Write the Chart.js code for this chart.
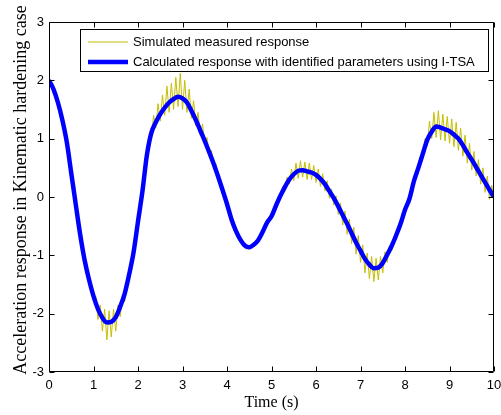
<!DOCTYPE html>
<html>
<head>
<meta charset="utf-8">
<script src="https://cdn.jsdelivr.net/npm/chart.js@4.4.0/dist/chart.umd.min.js"></script>
<style>
  html, body { margin: 0; padding: 0; background: #fff; }
</style>
</head>
<body>
<canvas id="myChart" width="501" height="415"></canvas>
<script>
// time steps of the two series (s)
var measuredStep = 0.05;
var calculatedStep = 0.1;

// simulated measured response (noisy), one value every 0.05 s from 0 to 10
var measuredValues = [
  2.00, 1.95, 1.83, 1.76, 1.60, 1.50, 1.30, 1.16, 0.92, 0.70,
  0.39, 0.17, -0.14, -0.35, -0.67, -0.83, -1.12, -1.20, -1.50, -1.50,
  -1.80, -1.70, -2.10, -1.85, -2.30, -1.92, -2.45, -1.95, -2.40, -1.92,
  -2.30, -1.85, -2.05, -1.68, -1.80, -1.42, -1.38, -1.10, -0.98, -0.66,
  -0.45, -0.12, 0.08, 0.48, 0.70, 1.05, 1.00, 1.40, 1.18, 1.60,
  1.30, 1.75, 1.40, 1.90, 1.45, 1.95, 1.50, 2.05, 1.55, 2.12,
  1.50, 2.00, 1.45, 1.85, 1.35, 1.65, 1.22, 1.45, 1.05, 1.25,
  0.90, 1.02, 0.75, 0.80, 0.55, 0.58, 0.33, 0.30, 0.14, 0.02,
  -0.14, -0.22, -0.40, -0.46, -0.62, -0.64, -0.78, -0.75, -0.88, -0.82,
  -0.90, -0.82, -0.86, -0.74, -0.78, -0.62, -0.64, -0.48, -0.48, -0.33,
  -0.38, -0.20, -0.20, 0.00, -0.04, 0.18, 0.10, 0.34, 0.22, 0.48,
  0.28, 0.58, 0.32, 0.62, 0.34, 0.60, 0.30, 0.58, 0.30, 0.54,
  0.25, 0.48, 0.18, 0.40, 0.10, 0.28, -0.02, 0.14, -0.14, 0.02,
  -0.30, -0.10, -0.48, -0.24, -0.64, -0.38, -0.80, -0.52, -0.98, -0.66,
  -1.12, -0.82, -1.30, -0.96, -1.40, -1.02, -1.45, -1.05, -1.42, -1.02,
  -1.30, -0.94, -1.12, -0.84, -0.92, -0.70, -0.72, -0.52, -0.50, -0.30,
  -0.26, -0.08, -0.06, 0.16, 0.24, 0.44, 0.46, 0.72, 0.68, 1.00,
  0.88, 1.30, 1.00, 1.45, 1.02, 1.48, 0.98, 1.42, 0.96, 1.38,
  0.92, 1.34, 0.86, 1.28, 0.80, 1.18, 0.70, 1.06, 0.58, 0.92,
  0.46, 0.78, 0.36, 0.64, 0.22, 0.50, 0.08, 0.36, -0.04, 0.20,
  -0.05
];

// calculated response with identified parameters, one value every 0.1 s
var calculatedValues = [
  2.00, 1.85, 1.62, 1.32, 0.94, 0.41, -0.12, -0.64, -1.08, -1.42,
  -1.70, -1.92, -2.07, -2.15, -2.14, -2.06, -1.88, -1.66, -1.33, -0.95,
  -0.42, 0.10, 0.72, 1.10, 1.28, 1.42, 1.53, 1.62, 1.68, 1.72,
  1.69, 1.62, 1.48, 1.32, 1.14, 0.96, 0.77, 0.57, 0.35, 0.12,
  -0.12, -0.38, -0.58, -0.73, -0.83, -0.86, -0.82, -0.74, -0.60, -0.44,
  -0.33, -0.15, 0.02, 0.17, 0.30, 0.39, 0.45, 0.46, 0.44, 0.42,
  0.38, 0.31, 0.22, 0.10, -0.02, -0.16, -0.31, -0.46, -0.62, -0.78,
  -0.92, -1.06, -1.16, -1.22, -1.21, -1.13, -0.99, -0.84, -0.66, -0.46,
  -0.22, -0.03, 0.27, 0.50, 0.74, 0.98, 1.12, 1.21, 1.19, 1.16,
  1.13, 1.07, 1.00, 0.89, 0.76, 0.64, 0.51, 0.38, 0.25, 0.12,
  0.00
];

var seriesLabels = ['Simulated measured response', 'Calculated response with identified parameters using I-TSA'];
var xTitle = 'Time (s)';
var yTitle = 'Acceleration response in Kinematic hardening case';

function toPoints(values, step) {
  var pts = [];
  for (var i = 0; i < values.length; i++) {
    pts.push({ x: Math.round(i * step * 100) / 100, y: values[i] });
  }
  return pts;
}

// box round the plot with inward ticks on all four sides, the legend and the y title
var framePlugin = {
  id: 'frame',
  afterDatasetsDraw: function(chart) {
    var ctx = chart.ctx;
    var a = chart.chartArea;
    var xs = chart.scales.x, ys = chart.scales.y;
    var L = Math.round(a.left) + 0.5, R = Math.round(a.right) - 0.5;
    var T = Math.round(a.top) + 0.5, B = Math.round(a.bottom) - 0.5;
    ctx.save();
    ctx.strokeStyle = '#000';
    ctx.lineWidth = 1;
    ctx.beginPath();
    ctx.rect(L, T, R - L, B - T);
    var len = 5;
    xs.ticks.forEach(function(t) {
      var px = Math.round(xs.getPixelForValue(t.value)) + 0.5;
      ctx.moveTo(px, B); ctx.lineTo(px, B - len);
      ctx.moveTo(px, T); ctx.lineTo(px, T + len);
    });
    ys.ticks.forEach(function(t) {
      var py = Math.round(ys.getPixelForValue(t.value)) + 0.5;
      ctx.moveTo(L, py); ctx.lineTo(L + len, py);
      ctx.moveTo(R, py); ctx.lineTo(R - len, py);
    });
    ctx.stroke();

    // legend
    var bx = 80.5, by = 29.5, bw = 408, bh = 42;
    ctx.fillStyle = '#fff';
    ctx.fillRect(bx, by, bw, bh);
    ctx.strokeRect(bx, by, bw, bh);
    ctx.font = '13px "Liberation Sans", Arial, sans-serif';
    ctx.textBaseline = 'middle';
    chart.data.datasets.forEach(function(ds, i) {
      var ly = 42 + i * 20;
      ctx.beginPath();
      ctx.strokeStyle = ds.borderColor;
      ctx.lineWidth = ds.borderWidth;
      ctx.moveTo(88, ly); ctx.lineTo(128, ly);
      ctx.stroke();
      ctx.fillStyle = '#000';
      ctx.fillText(ds.label, 133, ly);
    });

    // y axis title
    ctx.translate(21, 190);
    ctx.rotate(-Math.PI / 2);
    ctx.font = '18px "Liberation Serif", "Times New Roman", serif';
    ctx.textAlign = 'center';
    ctx.textBaseline = 'middle';
    ctx.fillStyle = '#000';
    ctx.fillText(yTitle, 0, 0);
    ctx.restore();
  }
};

var ctx = document.getElementById('myChart').getContext('2d');
var myChart = new Chart(ctx, {
  type: 'line',
  data: {
    datasets: [
      {
        label: seriesLabels[0],
        data: toPoints(measuredValues, measuredStep),
        borderColor: 'rgb(196,190,0)',
        borderWidth: 1,
        pointRadius: 0,
        tension: 0,
        order: 2
      },
      {
        label: seriesLabels[1],
        data: toPoints(calculatedValues, calculatedStep),
        borderColor: 'rgb(0,0,255)',
        borderWidth: 4.5,
        pointRadius: 0,
        cubicInterpolationMode: 'monotone',
        order: 1
      }
    ]
  },
  options: {
    responsive: false,
    animation: false,
    layout: { padding: { top: 22, right: 7, left: 0, bottom: 0 } },
    plugins: {
      legend: { display: false },
      tooltip: { enabled: false }
    },
    scales: {
      x: {
        type: 'linear',
        min: 0,
        max: 10,
        grid: { display: false, drawTicks: false },
        border: { display: false },
        ticks: {
          stepSize: 1,
          padding: 6,
          maxRotation: 0,
          color: '#000',
          font: { family: '"Liberation Sans", Arial, sans-serif', size: 13 }
        },
        title: {
          display: true,
          text: xTitle,
          color: '#000',
          padding: { top: 0, bottom: 3 },
          font: { family: '"Liberation Serif", "Times New Roman", serif', size: 16 }
        },
        afterFit: function(scale) {
          scale.height = 43;
          scale.paddingLeft = 0;
          scale.paddingRight = 0;
        }
      },
      y: {
        min: -3,
        max: 3,
        grid: { display: false, drawTicks: false },
        border: { display: false },
        ticks: {
          stepSize: 1,
          padding: 5,
          color: '#000',
          font: { family: '"Liberation Sans", Arial, sans-serif', size: 13 }
        },
        afterFit: function(scale) {
          scale.width = 49;
          scale.paddingTop = 0;
          scale.paddingBottom = 0;
        }
      }
    }
  },
  plugins: [framePlugin]
});
</script>
</body>
</html>
